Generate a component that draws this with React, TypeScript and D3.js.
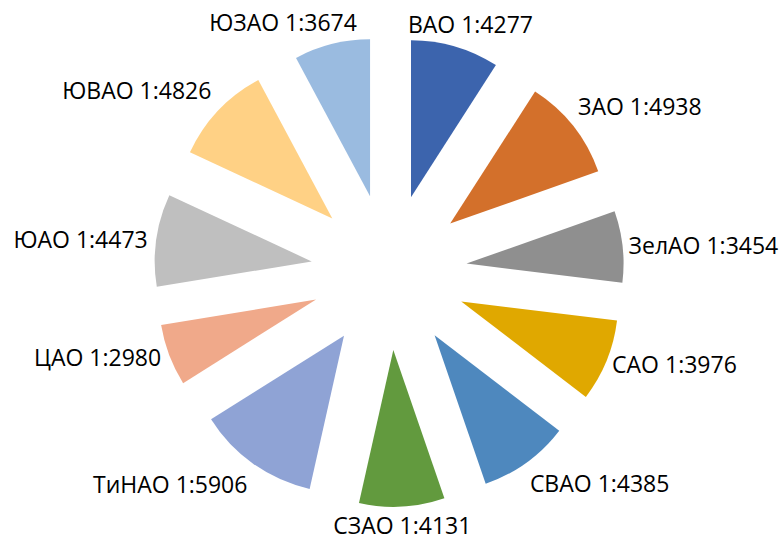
import React from "react";
import * as d3 from "d3";

const districts = ["ВАО", "ЗАО", "ЗелАО", "САО", "СВАО", "СЗАО", "ТиНАО", "ЦАО", "ЮАО", "ЮВАО", "ЮЗАО"];
const ratios = [4277, 4938, 3454, 3976, 4385, 4131, 5906, 2980, 4473, 4826, 3674];
const colors = ["#3C64AD", "#D3702B", "#8F8F8F", "#E0A800", "#4E88BE", "#629A3E", "#8FA3D5", "#F0A98A", "#BFBFBF", "#FFD185", "#9ABBE0"];

const W = 783;
const H = 540;
const CX = 389;
const CY = 272;
const R = 157;
const EXPLODE = 78;
const LABEL_GAP = 6;
const FONT_SIZE = 23;
const FONT = "'Open Sans', 'Noto Sans', sans-serif";

let measureCtx: CanvasRenderingContext2D | null = null;
function textWidth(t: string): number {
  if (typeof document === "undefined") return t.length * FONT_SIZE * 0.55;
  if (!measureCtx) {
    const c = document.createElement("canvas");
    measureCtx = c.getContext("2d");
  }
  if (!measureCtx) return t.length * FONT_SIZE * 0.55;
  measureCtx.font = `${FONT_SIZE}px 'Open Sans'`;
  return measureCtx.measureText(t).width;
}

const clamp = (v: number, a: number, b: number) => Math.max(a, Math.min(b, v));

export default function App() {
  const data = districts.map((d, i) => ({ name: d, value: ratios[i], color: colors[i] }));
  const pie = d3.pie<any>().sort(null).value((d: any) => d.value);
  const arcs = pie(data);
  const arc = d3.arc<any>().innerRadius(0).outerRadius(R);

  return (
    <svg width={W} height={H} style={{ position: "absolute", left: 0, top: 0, background: "#fff" }}>
      <rect x={0} y={0} width={W} height={H} fill="#fff" />
      <g transform={`translate(${CX},${CY})`}>
        {arcs.map((a, i) => {
          const mid = (a.startAngle + a.endAngle) / 2;
          const ux = Math.sin(mid);
          const uy = -Math.cos(mid);
          const dx = ux * EXPLODE;
          const dy = uy * EXPLODE;
          return (
            <path key={"s" + i} d={arc(a) || ""} transform={`translate(${dx},${dy})`} fill={a.data.color} />
          );
        })}
        {arcs.map((a, i) => {
          const mid = (a.startAngle + a.endAngle) / 2;
          const ux = Math.sin(mid);
          const uy = -Math.cos(mid);
          const D = EXPLODE + R + LABEL_GAP;
          const label = `${a.data.name} 1:${a.data.value}`;
          const w = textWidth(label);
          const hw = w / 2;
          const hh = 16;
          const sx = ux >= 0 ? clamp((ux - 0.2) / 0.38, 0, 1) : -clamp(-ux / 0.4, 0, 1);
          const sy = Math.sign(uy) * clamp((Math.abs(uy) - 0.35) / 0.25, 0, 1);
          const lx = D * ux + hw * sx - (ux < 0 ? 2.5 : 0);
          const ly = D * uy + hh * sy;
          const baseline = Math.min(ly + 8.3, H - CY - 6);
          return (
            <text
              key={"l" + i}
              x={lx}
              y={baseline}
              textAnchor="middle"
              fontFamily={FONT}
              fontSize={FONT_SIZE}
              fill="#000"
            >
              {label}
            </text>
          );
        })}
      </g>
    </svg>
  );
}
